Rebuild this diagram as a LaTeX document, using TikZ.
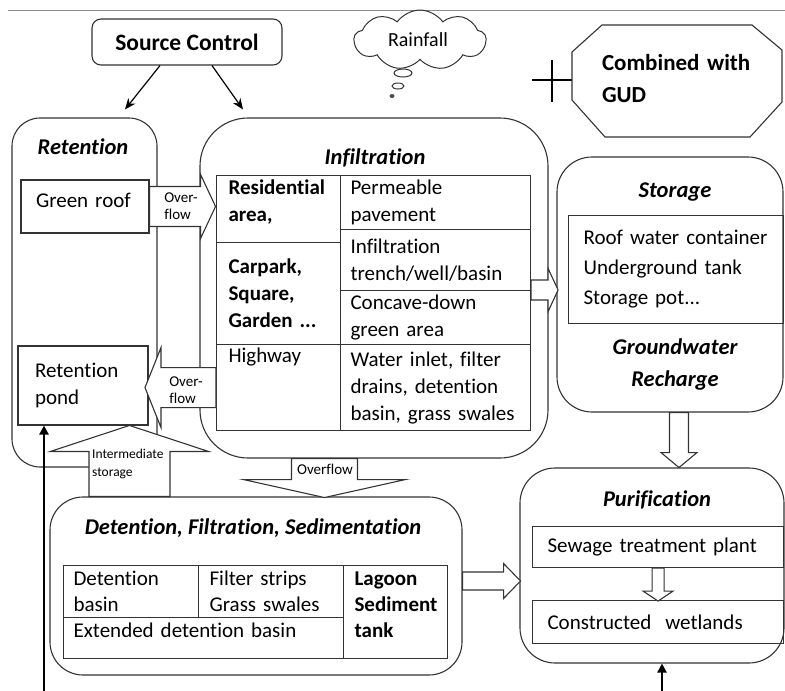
\documentclass[tikz,border=0pt]{standalone}
\usepackage{fontspec}
\setmainfont{Carlito}[Ligatures={NoCommon}]
\usetikzlibrary{shapes.symbols,arrows.meta,calc}
\newcommand{\bodyfont}{\fontsize{21}{27}\selectfont}
\newcommand{\headfont}{\fontsize{22.5}{32}\selectfont\bfseries\itshape}
\newcommand{\tagfont}{\fontsize{15}{17}\selectfont}
\newcommand{\tinyfont}{\fontsize{13.5}{18}\selectfont}
\tikzset{
	source/.style={draw=black!80, line width=1.1pt, rounded corners=9pt, minimum width=190pt, 
		minimum height=46pt, font=\fontsize{23.5}{28}\selectfont\bfseries},
	gudtext/.style={inner sep=0pt, text width=150pt, align=left, font=\fontsize{23}{32}\selectfont\bfseries},
	outline/.style={draw=black!80, line width=1.1pt},
	container/.style={outline, rounded corners=#1, inner sep=0pt},
	header/.style={inner sep=0pt, font=\headfont},
	cellbox/.style={outline, inner sep=0pt, align=left, font=\bodyfont},
	tablecell/.style={cellbox, anchor=north west},
	tag/.style={inner sep=0pt, align=left, font=\tagfont},
	blockline/.style={outline, fill=white},
	thinarrow/.style={line width=1.2pt, -{Stealth[length=11pt,width=9pt]}},
	thickarrow/.style={line width=2.2pt, -{Triangle[length=9pt,width=9pt]}},
	pics/barrow/.style args={#1/#2/#3/#4}{
		code={\draw[blockline] (0,-#2) -- ({#1-#4},-#2) -- ({#1-#4},-#3) -- (#1,0)
			-- ({#1-#4},#3) -- ({#1-#4},#2) -- (0,#2) -- cycle;}
	}
}

\begin{document}
\begin{tikzpicture}[x=1pt, y=-1pt]
	\useasboundingbox (0,0) rectangle (785,691);
	\draw[black!45, line width=0.8pt] (8,10) -- (785,10);
	
	% top row
	\node[source] (src) at (187,42) {Source Control};
	\node[cloud, outline, line width=1pt, cloud puffs=9, cloud puff arc=110, aspect=2.9,
		minimum width=132pt, minimum height=60pt, inner sep=0pt] (rain) at (420,40) {};
	\node[inner sep=0pt, font=\fontsize{20}{24}\selectfont] (raintxt) at (418,40) {Rainfall};
	\draw[black!80, line width=1pt] (403,73) ellipse (9 and 4);
	\draw[black!80, line width=1pt] (398,86) ellipse (6 and 3);
	\fill[black!70] (392,96) ellipse (2.5 and 2);
	\draw[line width=1.6pt] (552,60) -- (552,102) (532,80) -- (572,80);
	\node[gudtext] (gud) at (677,79) {Combined with\\GUD};
	\draw[outline] (602,25) -- (752,25) -- (782,50) -- (782,102) -- (750,137)
		-- (605,137) -- (572,100) -- (572,52) -- cycle;
	
	% containers
	\node[container=28pt, minimum width=145pt, minimum height=349pt] (ret) at (84.5,292.5) {};
	\node[container=48pt, minimum width=348pt, minimum height=340pt] (inf) at (374,288) {};
	\node[container=35pt, minimum width=226pt, minimum height=255pt] (sto) at (670,284.5) {};
	\node[container=33pt, minimum width=412pt, minimum height=178pt] (det) at (256,586) {};
	\node[container=35pt, minimum width=264pt, minimum height=195pt] (pur) at (652,565.5) {};
	
	\node[header] (rett) at (83,147) {Retention};
	\node[header] (inft) at (375,158) {Infiltration};
	\node[header] (stot) at (675,192) {Storage};
	\node[header, align=center] (gwr) at (675,364) {Groundwater\\Recharge};
	\node[header] (dett) at (253,528) {Detention, Filtration, Sedimentation};
	\node[header] (purt) at (657,500) {Purification};
	
	% retention
	\node[cellbox, minimum width=128pt, minimum height=53pt, text width=98pt, text depth=13pt] (roof) at (85,206.5) {Green roof};
	\node[cellbox, minimum width=130pt, minimum height=79pt, text width=96pt] (pond) at (83,385.5) {Retention\\pond};
	
	% infiltration
	\node[tablecell, minimum width=124pt, minimum height=67pt, text width=100pt, text depth=44pt, font=\bodyfont\bfseries] (i11) at (216,175) {Residential\\area,};
	\node[tablecell, minimum width=124pt, minimum height=102pt, text width=100pt, font=\bodyfont\bfseries] (i21) at (216,242) {Carpark,\\Square,\\Garden ...};
	\node[tablecell, minimum width=124pt, minimum height=86pt, text width=100pt, text depth=65pt] (i31) at (216,344) {Highway};
	\node[tablecell, minimum width=190pt, minimum height=54pt, text width=170pt] (i12) at (340,175) {Permeable\\pavement};
	\node[tablecell, minimum width=190pt, minimum height=61pt, text width=170pt] (i22) at (340,229) {Infiltration\\trench/well/basin};
	\node[tablecell, minimum width=190pt, minimum height=54pt, text width=170pt] (i32) at (340,290) {Concave-down\\green area};
	\node[tablecell, minimum width=190pt, minimum height=86pt, text width=170pt] (i42) at (340,344) {Water inlet, filter\\drains, detention\\basin, grass swales};
	
	% storage
	\node[tablecell, minimum width=215pt, minimum height=108pt, text width=185pt, font=\fontsize{21}{30}\selectfont] (stb) at (568,215) {Roof water container\\Underground tank\\Storage pot...};
	
	% purification
	\node[tablecell, minimum width=251pt, minimum height=41pt, text width=221pt] (swt) at (532,526) {Sewage treatment plant};
	\node[tablecell, minimum width=251pt, minimum height=43pt, text width=221pt] (cwl) at (532,600) {Constructed\ \ wetlands};
	
	% detention
	\node[tablecell, minimum width=135pt, minimum height=52pt, text width=115pt, font=\fontsize{21}{26}\selectfont] (d11) at (63,565) {Detention\\basin};
	\node[tablecell, minimum width=145pt, minimum height=52pt, text width=123pt, font=\fontsize{21}{26}\selectfont] (d12) at (198,565) {Filter strips\\Grass swales};
	\node[tablecell, minimum width=280pt, minimum height=41pt, text width=260pt, text depth=15pt] (d21) at (63,617) {Extended detention basin};
	\node[tablecell, minimum width=104pt, minimum height=93pt, text width=82pt, text depth=67pt, font=\fontsize{21}{26}\selectfont\bfseries] (d13) at (343,565) {Lagoon\\Sediment\\tank};
	
	% block arrows
	\pic at (roof.east) {barrow=66/20/32/15};
	\node[tag] (ov1) at (181,206) {Over-\\flow};
	\pic[rotate=180] at (i31.west) {barrow=71/20/40/16};
	\node[tag] (ov2) at (186,390) {Over-\\flow};
	\pic[rotate=90] at ($(det.north west)+(80,0)$) {barrow=71/40.5/79/26};
	\node[tag, font=\tinyfont, anchor=west] (ist) at (92,464) {Intermediate\\storage};
	\pic[rotate=-90] at ($(inf.south west)+(125,0)$) {barrow=39/33/81/18};
	\node[tag] (ov3) at (325,469) {Overflow};
	\pic at (i32.north east) {barrow=27/10/21.5/10};
	\pic[rotate=-90] at ($(sto.south)+(9,0)$) {barrow=55/9.5/18/15};
	\pic at ([yshift=5pt]det.east) {barrow=58/9/17.5/17};
	\pic[rotate=-90] at (swt.south) {barrow=33/6/15/10};
	
	% line arrows
	\draw[thinarrow] ([xshift=-27pt]src.south) -- ([xshift=40.5pt,yshift=8pt]ret.north);
	\draw[thinarrow] ([xshift=25pt]src.south) -- ([xshift=-131pt,yshift=8pt]inf.north);
	\coordinate (inl) at (44,691);
	\draw[thickarrow] (inl) -- (inl |- pond.south);
	\coordinate (inp) at (662,691);
	\draw[thickarrow] (inp) -- (inp |- pur.south);
\end{tikzpicture}
\end{document}
